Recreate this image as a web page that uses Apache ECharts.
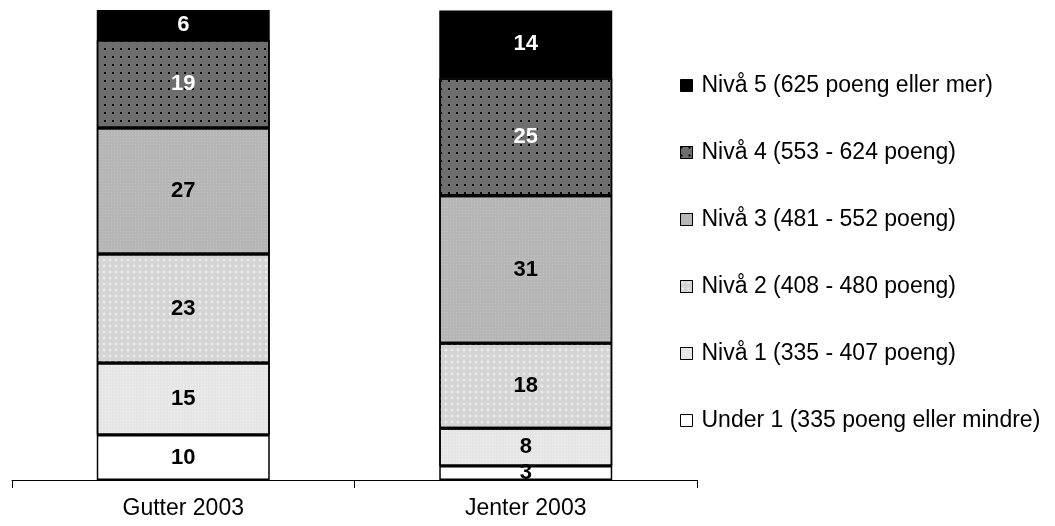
<!DOCTYPE html>
<html>
<head>
<meta charset="utf-8">
<script src="https://cdn.jsdelivr.net/npm/echarts@6/dist/echarts.min.js"></script>
<style>html,body{margin:0;padding:0;background:#fff}#c{width:1055px;height:526px}</style>
</head>
<body>
<div id="c"></div>
<script>
var categories = ['Gutter 2003', 'Jenter 2003'];
var seriesNames = [
  'Under 1 (335 poeng eller mindre)',
  'Nivå 1 (335 - 407 poeng)',
  'Nivå 2 (408 - 480 poeng)',
  'Nivå 3 (481 - 552 poeng)',
  'Nivå 4 (553 - 624 poeng)',
  'Nivå 5 (625 poeng eller mer)'
];
var under1 = [9.6, 3.0];
var niva1 = [15.3, 8.0];
var niva2 = [23.2, 18.1];
var niva3 = [26.8, 31.4];
var niva4 = [18.7, 25.0];
var niva5 = [6.4, 14.4];

var values = [under1, niva1, niva2, niva3, niva4, niva5];
var fills = ['#ffffff', '#e6e6e6', '#d4d4d4', '#b6b6b6', '#6e6e6e', '#000000'];
var labelColors = ['#000', '#000', '#000', '#000', '#fff', '#fff'];
var decals = [
  null,
  {symbol: 'rect', symbolSize: 1, dashArrayX: [1, 2], dashArrayY: [1, 2], color: 'rgba(255,255,255,0.35)'},
  {symbol: 'diamond', symbolSize: 0.9, dashArrayX: [4, 2], dashArrayY: [4, 2], color: 'rgba(255,255,255,0.55)'},
  {symbol: 'rect', symbolSize: 1, dashArrayX: [1, 2], dashArrayY: [1, 2], color: 'rgba(255,255,255,0.18)'},
  {symbol: 'rect', symbolSize: 1, dashArrayX: [2, 6], dashArrayY: [2, 6], color: '#000'},
  null
];
var FONT = 'Liberation Sans, Arial, sans-serif';

var series = values.map(function (v, i) {
  var s = {
    name: seriesNames[i],
    type: 'bar',
    stack: 'total',
    barWidth: '50.5%',
    data: v,
    itemStyle: {color: fills[i], borderColor: '#000', borderWidth: 1.5},
    label: {
      show: true,
      position: 'inside',
      fontFamily: FONT,
      fontSize: 22,
      fontWeight: 'bold',
      color: labelColors[i],
      formatter: function (p) { return Math.round(p.value); }
    },
    emphasis: {disabled: true}
  };
  if (decals[i]) s.itemStyle.decal = decals[i];
  return s;
});

var chart = echarts.init(document.getElementById('c'));
chart.setOption({
  animation: false,
  backgroundColor: '#fff',
  grid: {left: 12, right: 358, top: 10, bottom: 46},
  legend: {
    orient: 'vertical',
    left: 680,
    top: 74,
    padding: 0,
    icon: 'rect',
    itemWidth: 12,
    itemHeight: 12,
    itemGap: 44,
    data: seriesNames.slice().reverse(),
    itemStyle: {borderWidth: 1, borderColor: '#000'},
    textStyle: {fontFamily: FONT, fontSize: 23, color: '#000', lineHeight: 23, padding: [0, 0, 0, 4]},
    selectedMode: false
  },
  xAxis: {
    type: 'category',
    data: categories,
    axisLine: {lineStyle: {color: '#000', width: 1}},
    axisTick: {show: true, length: 8, lineStyle: {color: '#000'}},
    axisLabel: {fontFamily: FONT, fontSize: 23, color: '#000', margin: 17}
  },
  yAxis: {
    type: 'value', min: 0, max: 100, show: false, splitLine: {show: false}
  },
  series: series
});
</script>
</body>
</html>
